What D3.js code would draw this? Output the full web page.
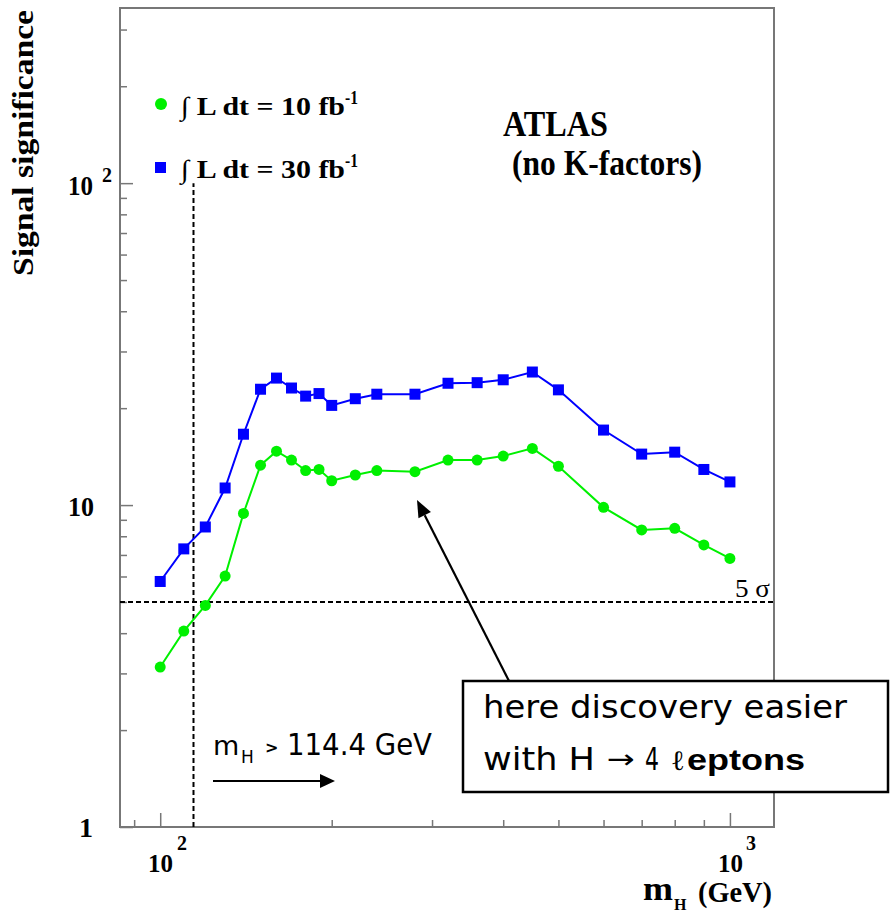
<!DOCTYPE html>
<html><head><meta charset="utf-8">
<script src="https://cdn.jsdelivr.net/npm/d3@7"></script>
<style>body{margin:0;background:#fff}svg{display:block}</style>
</head><body><svg id="c" width="890" height="916"></svg>
<script>
// ---- data ----
const masses = [100,110,120,130,140,150,160,170,180,190,200,220,240,280,320,360,400,450,500,600,700,800,900,1000];
const sig10 = [3.14,4.06,4.88,6.02,9.42,13.3,14.7,13.8,12.8,12.9,11.9,12.4,12.8,12.7,13.8,13.8,14.2,15.0,13.2,9.84,8.37,8.47,7.52,6.83];
const sig30 = [5.79,7.31,8.55,11.3,16.6,22.9,24.8,23.1,21.8,22.2,20.4,21.4,22.1,22.1,23.9,24.0,24.5,25.9,22.8,17.1,14.4,14.6,12.9,11.8];
const seriesLabels = ["\u222B L dt = 10 fb", "\u222B L dt = 30 fb"];
const yMajorTicks = [1, 10, 100];
const yMinorTicks = [2,3,4,5,6,7,8,9,20,30,40,50,60,70,80,90,200,300];
const xMajorTicks = [100, 1000];
const xMinorTicks = [90,200,300,400,500,600,700,800,900];
const fiveSigma = 5;
const lepLimit = 114.4;

const svg = d3.select("#c");
const x = d3.scaleLog().domain([85, 1195]).range([120, 774]);
const y = d3.scaleLog().domain([1, 350]).range([827, 8]);
const serif = "'Liberation Serif','Times New Roman',serif";
const sans = "'DejaVu Sans','Liberation Sans',sans-serif";
const green = "#00f000", blue = "#0000ff", axisCol = "#777";

function T(px, py, str, o) {
  o = o || {};
  const t = svg.append("text")
    .attr("x", px).attr("y", py)
    .attr("font-family", o.family || serif)
    .attr("font-size", o.size || 24)
    .attr("font-weight", o.weight || "bold")
    .attr("font-style", o.style || "normal")
    .attr("text-anchor", o.anchor || "start")
    .attr("fill", "#000")
    .text(str);
  if (o.len) t.attr("textLength", o.len).attr("lengthAdjust", "spacingAndGlyphs");
  if (o.transform) t.attr("transform", o.transform);
  return t;
}

// ---- frame ----
svg.append("rect").attr("x", 120).attr("y", 8).attr("width", 654).attr("height", 819)
  .attr("fill", "none").attr("stroke", axisCol).attr("stroke-width", 2);

// ---- axes ticks (inside) ----
function ax(gen, tr, vals, size) {
  svg.append("g").attr("transform", tr)
    .call(gen.tickValues(vals).tickSize(size).tickFormat(""))
    .call(g => g.select(".domain").remove())
    .call(g => g.selectAll("line").attr("stroke", axisCol).attr("stroke-width", 1.5));
}
ax(d3.axisLeft(y), "translate(120,0)", yMinorTicks, -7);
ax(d3.axisLeft(y), "translate(120,0)", yMajorTicks, -13);
ax(d3.axisBottom(x), "translate(0,827)", xMinorTicks, -7);
ax(d3.axisBottom(x), "translate(0,827)", xMajorTicks, -14);

// ---- dotted reference lines ----
svg.append("line").attr("x1", x(85)).attr("x2", x(1195)).attr("y1", y(fiveSigma)).attr("y2", y(fiveSigma))
  .attr("stroke", "#000").attr("stroke-width", 2).attr("stroke-dasharray", "5,3");
svg.append("line").attr("x1", x(lepLimit)).attr("x2", x(lepLimit)).attr("y1", y(1)).attr("y2", y(100))
  .attr("stroke", "#000").attr("stroke-width", 2).attr("stroke-dasharray", "5,3");

// ---- series ----
const d10 = masses.map((m, i) => ({m, v: sig10[i]}));
const d30 = masses.map((m, i) => ({m, v: sig30[i]}));
const line = d3.line().x(d => x(d.m)).y(d => y(d.v));
svg.append("path").datum(d30).attr("d", line).attr("fill", "none").attr("stroke", blue).attr("stroke-width", 2);
svg.append("path").datum(d10).attr("d", line).attr("fill", "none").attr("stroke", green).attr("stroke-width", 2);
svg.selectAll(".sq").data(d30).enter().append("rect")
  .attr("x", d => x(d.m) - 5.5).attr("y", d => y(d.v) - 5.5).attr("width", 11).attr("height", 11).attr("fill", blue);
svg.selectAll(".ci").data(d10).enter().append("circle")
  .attr("cx", d => x(d.m)).attr("cy", d => y(d.v)).attr("r", 5.5).attr("fill", green);

// ---- legend ----
svg.append("circle").attr("cx", 161).attr("cy", 104).attr("r", 6).attr("fill", green);
svg.append("rect").attr("x", 155).attr("y", 162).attr("width", 11).attr("height", 11).attr("fill", blue);
T(181, 115, seriesLabels[0], {size: 26, len: 164});
T(345, 104, "-1", {size: 18, len: 13});
T(181, 178, seriesLabels[1], {size: 26, len: 164});
T(345, 167, "-1", {size: 18, len: 13});

// ---- ATLAS text ----
T(503, 136, "ATLAS", {size: 35, len: 105});
T(512, 175, "(no K-factors)", {size: 35, len: 190});
T(735, 597, "5 \u03C3", {size: 25, weight: "normal", len: 35});

// ---- axis labels ----
T(33, 143, "Signal significance", {size: 29, anchor: "middle", len: 266, transform: "rotate(-90,33,143)"});
T(93, 195, "10", {size: 28, anchor: "end", len: 25});
T(102, 182, "2", {size: 20});
T(94, 516, "10", {size: 28, anchor: "end", len: 26});
T(93, 837, "1", {size: 28, anchor: "end"});
T(148, 872, "10", {size: 26, len: 25});
T(177, 850, "2", {size: 20});
T(718, 872, "10", {size: 26, len: 25});
T(746, 850, "3", {size: 20});
T(643, 900, "m", {size: 34, len: 30});
T(674, 910, "H", {size: 16});
T(698, 902, "(GeV)", {size: 29, len: 74});

// ---- LEP limit annotation ----
T(213, 755, "m", {family: sans, weight: "normal", size: 27});
T(241, 763, "H", {family: sans, weight: "normal", size: 17});
T(265, 753, ">", {family: sans, weight: "bold", size: 16});
T(287, 755, "114.4 GeV", {family: sans, weight: "normal", size: 31, len: 145});
svg.append("line").attr("x1", 213).attr("x2", 322).attr("y1", 781).attr("y2", 781).attr("stroke", "#000").attr("stroke-width", 2);
svg.append("path").attr("d", "M335,781 L320,774 L320,788 Z").attr("fill", "#000");

// ---- arrow to curves ----
(function(){
  const x0 = 509, y0 = 681, x1 = 417, y1 = 500;
  const dx = x1 - x0, dy = y1 - y0, L = Math.hypot(dx, dy), ux = dx / L, uy = dy / L;
  const hl = 17, hw = 7;
  const bx = x1 - ux * hl, by = y1 - uy * hl;
  svg.append("line").attr("x1", x0).attr("y1", y0).attr("x2", bx).attr("y2", by).attr("stroke", "#000").attr("stroke-width", 2.2);
  svg.append("path").attr("d", `M${x1},${y1} L${bx - uy * hw},${by + ux * hw} L${bx + uy * hw},${by - ux * hw} Z`).attr("fill", "#000");
})();

// ---- annotation box ----
svg.append("rect").attr("x", 463).attr("y", 681).attr("width", 425).attr("height", 111)
  .attr("fill", "#fff").attr("stroke", "#000").attr("stroke-width", 2.5);
T(483, 718, "here discovery easier", {family: sans, weight: "normal", size: 32, len: 364});
T(483, 770, "with H", {family: sans, weight: "normal", size: 32, len: 112});
T(607, 768, "\u2192", {family: sans, weight: "normal", size: 26, len: 28});
T(645, 770, "4", {family: sans, weight: "normal", size: 32, len: 14});
T(671, 770, "\u2113", {family: serif, weight: "normal", size: 28, len: 14});
T(687, 770, "eptons", {family: "'Liberation Sans',Arial,sans-serif", weight: "bold", size: 30, len: 118});
</script></body></html>
